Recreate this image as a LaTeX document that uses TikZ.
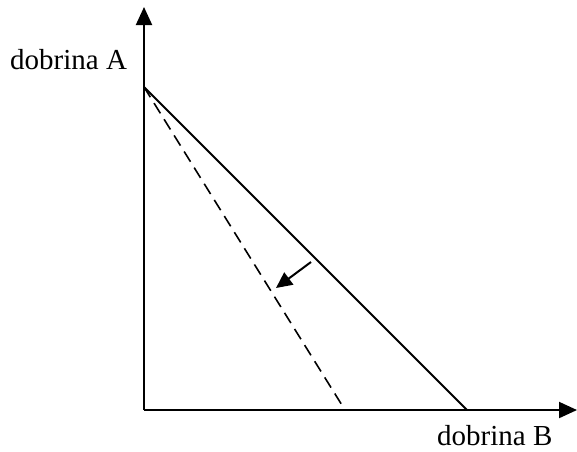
\documentclass[tikz,border=0pt]{standalone}
\usepackage{fontspec}
\setmainfont{Liberation Serif}
\usetikzlibrary{arrows.meta}
\tikzset{
  axis/.style={line width=2pt,-{Triangle[length=18pt,width=16pt]}},
  budget/.style={line width=1.8pt},
  budgetnew/.style={line width=1.6pt,dash pattern=on 12pt off 7pt},
  shift arrow/.style={line width=2pt,-{Triangle[length=16pt,width=15pt]}},
  lab/.style={font=\fontsize{29}{34}\selectfont,inner sep=0pt,anchor=base west}
}
\begin{document}
\begin{tikzpicture}[x=1pt,y=-1pt]
\useasboundingbox (0,0) rectangle (577,451);
\coordinate (O) at (144,410);
\coordinate (Ytop) at (144,7);
\coordinate (Xend) at (577,410);
\coordinate (A) at (144,87);
\coordinate (B) at (467,410);
\coordinate (C) at (345,410);
\coordinate (T) at (311,262);
\coordinate (H) at (276,288);
\draw[budget] (A) -- (B);
\draw[budgetnew] (A) -- (C);
\draw[shift arrow] (T) -- (H);
\draw[axis] (O) -- (Ytop);
\draw[axis] (O) -- (Xend);
\node[lab] (la) at (10,69) {dobrina A};
\node[lab] (lb) at (437,445) {dobrina B};
\end{tikzpicture}
\end{document}
